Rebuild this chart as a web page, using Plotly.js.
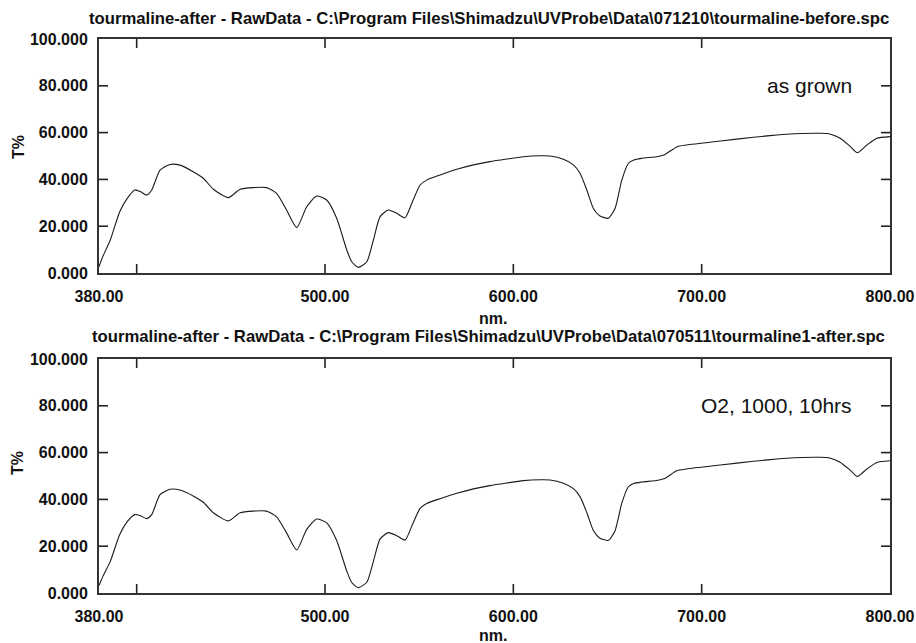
<!DOCTYPE html>
<html>
<head>
<meta charset="utf-8">
<script src="https://cdn.plot.ly/plotly-3.0.1.min.js"></script>
<style>html,body{margin:0;padding:0;background:#fff;}#chart{width:916px;height:643px;}</style>
</head>
<body>
<div id="chart"></div>
<script>
// Wavelength (nm) and transmittance (T%)
const wlTop = [380,382,386,391,395,399,402,405.3,408,412.4,417.7,423,430,435.4,440.7,448.7,454.9,461.9,469,474.3,479.6,485,490.3,495.6,500.9,506.2,511.5,514.2,517.7,522.2,525.7,529.2,533.6,538.1,542.5,546.1,550.5,554,561.1,570,578.8,587.6,596.5,605.3,614.2,619.5,626.6,631.9,635.4,639,642.5,646,650.5,654,657.6,661.1,664,668,676,680,687,692,710,727.5,745,763,768,773.5,779,782.7,787.7,793,800];
const tTop = [2.7,7,14.1,26.2,31.9,35.5,34.8,33.3,35.5,44,46.4,46.1,43.3,40.5,35.8,32.2,35.8,36.5,36.5,34,26.9,19.4,28.3,32.9,31.2,23.4,10,4.8,2.4,4.8,14.1,24,26.9,25.5,23.6,29.8,37.6,39.7,41.9,44.3,46.2,47.6,48.7,49.7,50.1,50,48.6,46.2,42.6,35.5,27.6,24.4,23.4,27.6,39.7,46.9,48.3,49,49.7,50.4,54,54.7,56.4,58,59.3,59.7,59.4,57.6,54,51.4,54.7,57.6,58.3];
const wlBot = [380,382,386,391,395,399,402,405.3,408,412.4,417.7,423,430,435.4,440.7,448.7,454.9,461.9,469,474.3,479.6,485,490.3,495.6,500.9,506.2,511.5,514.2,517.7,522.2,525.7,529.2,533.6,538.1,542.5,546.1,550.5,554,561.1,570,578.8,587.6,596.5,605.3,614.2,619.5,626.6,631.9,635.4,639,642.5,646,650.5,654,657.6,661.1,664,668,676,680,687,692,710,727.5,745,763,768,773.5,779,782.7,787.7,793,800];
const tBot = [3.2,7,13.5,25,30.5,33.5,33,31.8,33.5,42,44.3,44,41.5,38.8,34.3,30.8,34.3,35,35,32.5,25.7,18.4,27.2,31.6,30,22.4,9.5,4.5,2.3,4.6,13.5,23,25.8,24.5,22.6,28.6,36.2,38.2,40.3,42.6,44.5,45.9,47,48,48.4,48.3,46.9,44.6,41.2,34.4,26.7,23.4,22.5,26.6,38.4,45.4,46.8,47.4,48.1,48.8,52.3,53,54.7,56.3,57.6,58,57.7,55.9,52.4,49.8,53,55.8,56.5];

const xLabelVals = [380,500,600,700,800];
const xLabelText = ['380.00','500.00','600.00','700.00','800.00'];
const xTickMarks = [400,500,600,700];
const yTickVals = [0,20,40,60,80,100];
const yTickText = ['0.000','20.000','40.000','60.000','80.000','100.000'];
const yTickMarks = [20,40,60,80];

const titleTop = 'tourmaline-after - RawData - C:\\Program Files\\Shimadzu\\UVProbe\\Data\\071210\\tourmaline-before.spc';
const titleBot = 'tourmaline-after - RawData - C:\\Program Files\\Shimadzu\\UVProbe\\Data\\070511\\tourmaline1-after.spc';
const noteTop = 'as grown';
const noteBot = 'O2, 1000, 10hrs';

const FAM = 'Liberation Sans, Arial, sans-serif';
const boldFont = {family: FAM, size: 16, color: '#111', weight: 'bold'};
const titleFont = {family: FAM, size: 16.7, color: '#111', weight: 'bold'};
const TICKC = '#222';

function xAxis(anchor) {
  return {
    range: [380, 800], anchor: anchor,
    tickmode: 'array', tickvals: xLabelVals, ticktext: xLabelText,
    ticks: '', showgrid: false, zeroline: false,
    showline: true, linecolor: '#333', linewidth: 2, mirror: true,
    tickfont: boldFont, ticklabelstandoff: 8
  };
}
function yAxis(anchor, dom) {
  return {
    range: [0, 100], anchor: anchor, domain: dom,
    tickmode: 'array', tickvals: yTickVals, ticktext: yTickText,
    ticks: '', showgrid: false, zeroline: false,
    showline: true, linecolor: '#333', linewidth: 2, mirror: true,
    tickfont: boldFont, ticklabelstandoff: 6
  };
}

// inward tick marks on all four sides of each frame, placed through the axes' scales
function tickShapes(xr, yr, xLen, yLen) {
  const s = [];
  const ln = {color: TICKC, width: 1.6};
  xTickMarks.forEach(v => {
    s.push({type: 'line', xref: xr, yref: yr + ' domain', x0: v, x1: v, y0: 0, y1: yLen, line: ln});
    s.push({type: 'line', xref: xr, yref: yr + ' domain', x0: v, x1: v, y0: 1 - yLen, y1: 1, line: ln});
  });
  yTickMarks.forEach(v => {
    s.push({type: 'line', xref: xr + ' domain', yref: yr, x0: 0, x1: xLen, y0: v, y1: v, line: ln});
    s.push({type: 'line', xref: xr + ' domain', yref: yr, x0: 1 - xLen, x1: 1, y0: v, y1: v, line: ln});
  });
  return s;
}

const lineStyle = {color: '#1a1a1a', width: 1.1, shape: 'spline', smoothing: 0.6};
const traces = [
  {x: wlTop, y: tTop, type: 'scatter', mode: 'lines', line: lineStyle, xaxis: 'x', yaxis: 'y'},
  {x: wlBot, y: tBot, type: 'scatter', mode: 'lines', line: lineStyle, xaxis: 'x2', yaxis: 'y2'}
];

const layout = {
  width: 916, height: 643,
  margin: {l: 99, r: 26, t: 39, b: 50},
  paper_bgcolor: '#fff', plot_bgcolor: '#fff',
  showlegend: false,
  xaxis: xAxis('y'),
  yaxis: yAxis('x', [0.5776, 1]),
  xaxis2: xAxis('y2'),
  yaxis2: yAxis('x2', [0, 0.4224]),
  shapes: tickShapes('x', 'y', 0.0114, 0.0385).concat(tickShapes('x2', 'y2', 0.0114, 0.0385)),
  annotations: [
    {text: titleTop, xref: 'paper', yref: 'paper', x: 0.493, y: 1.0379, xanchor: 'center', yanchor: 'middle', showarrow: false, font: titleFont},
    {text: titleBot, xref: 'paper', yref: 'paper', x: 0.493, y: 0.4621, xanchor: 'center', yanchor: 'middle', showarrow: false, font: titleFont},
    {text: 'nm.', xref: 'paper', yref: 'paper', x: 0.4987, y: 0.496, xanchor: 'center', yanchor: 'middle', showarrow: false, font: boldFont},
    {text: 'nm.', xref: 'paper', yref: 'paper', x: 0.4987, y: -0.076, xanchor: 'center', yanchor: 'middle', showarrow: false, font: boldFont},
    {text: 'T%', xref: 'paper', yref: 'paper', x: -0.1024, y: 0.805, xanchor: 'center', yanchor: 'middle', textangle: -90, showarrow: false, font: boldFont},
    {text: 'T%', xref: 'paper', yref: 'paper', x: -0.1024, y: 0.2347, xanchor: 'center', yanchor: 'middle', textangle: -90, showarrow: false, font: boldFont},
    {text: noteTop, xref: 'x', yref: 'y', x: 781, y: 80, xanchor: 'right', yanchor: 'middle', showarrow: false, font: {family: FAM, size: 21, color: '#111'}},
    {text: noteBot, xref: 'x2', yref: 'y2', x: 781, y: 80, xanchor: 'right', yanchor: 'middle', showarrow: false, font: {family: FAM, size: 21, color: '#111'}}
  ]
};

Plotly.newPlot('chart', traces, layout, {staticPlot: true, displayModeBar: false});
</script>
</body>
</html>
